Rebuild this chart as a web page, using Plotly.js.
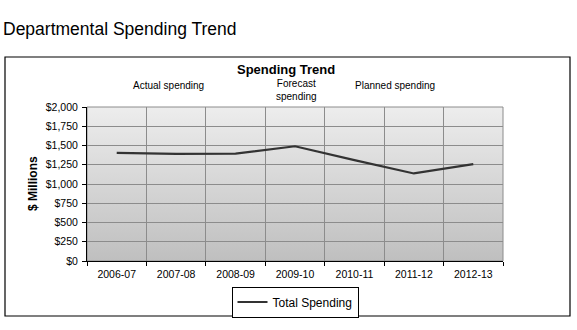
<!DOCTYPE html>
<html>
<head>
<meta charset="utf-8">
<script src="https://cdn.plot.ly/plotly-3.0.1.min.js"></script>
<style>html,body{margin:0;padding:0;background:#fff;}#chart{width:577px;height:330px;}</style>
</head>
<body>
<div id="chart"></div>
<script>
const years = ["2006-07","2007-08","2008-09","2009-10","2010-11","2011-12","2012-13"];
const totalSpending = [1405, 1390, 1395, 1490, 1310, 1137, 1258];
const yTickVals = [0,250,500,750,1000,1250,1500,1750,2000];
const yTickText = ["$0","$250","$500","$750","$1,000","$1,250","$1,500","$1,750","$2,000"];
const seriesName = "Total Spending";
const chartTitle = "Departmental Spending Trend";
const innerTitle = "Spending Trend";
const periodLabels = ["Actual spending", "Forecast<br>spending", "Planned spending"];
const yTitle = "$ Millions";

const L = 87, R = 503, T = 107, B = 261, W = 577, H = 330;
const pw = R - L, ph = B - T;
const px = v => (v - L) / pw;
const py = v => (B - v) / ph;

const grad = 'data:image/svg+xml;utf8,' + encodeURIComponent(
  '<svg xmlns="http://www.w3.org/2000/svg" width="100" height="100" preserveAspectRatio="none">' +
  '<defs><linearGradient id="g" x1="0" y1="0" x2="0" y2="1">' +
  '<stop offset="0" stop-color="#ededed"/><stop offset="1" stop-color="#bfbfbf"/></linearGradient></defs>' +
  '<rect width="100" height="100" fill="url(#g)"/></svg>');

const font = "Liberation Sans, Arial, sans-serif";

const data = [{
  x: years, y: totalSpending, type: "scatter", mode: "lines", name: seriesName,
  line: {color: "#333333", width: 2.2}, showlegend: true
}];

const layout = {
  width: W, height: H,
  margin: {l: L, r: W - R, t: T, b: H - B, pad: 0, autoexpand: false},
  paper_bgcolor: "#ffffff", plot_bgcolor: "rgba(0,0,0,0)",
  font: {family: font, color: "#000", size: 10},
  title: {text: chartTitle, font: {family: font, size: 17.5, color: "#000"},
          x: 3 / W, xanchor: "left", xref: "container", y: 1 - 29 / H, yanchor: "middle", yref: "container"},
  xaxis: {type: "category", tickson: "boundaries", ticks: "outside", ticklen: 4, tickcolor: "#000",
          showgrid: true, gridcolor: "#8c8c8c", gridwidth: 1, showline: true, linecolor: "#000", linewidth: 1,
          tickfont: {size: 10.5, family: font}, range: [-0.5, 6.5], fixedrange: true, zeroline: false,
          automargin: false, ticklabelstandoff: 3},
  yaxis: {range: [0, 2000], tickvals: yTickVals, ticktext: yTickText, ticks: "outside",
          ticklen: 4, tickcolor: "#000", showgrid: true, gridcolor: "#8c8c8c", gridwidth: 1,
          showline: true, linecolor: "#000", linewidth: 1, zeroline: false,
          tickfont: {size: 10.5, family: font}, fixedrange: true, automargin: false, ticklabelstandoff: 2},
  showlegend: true,
  legend: {x: 0.5, xanchor: "center", y: py(302), yanchor: "middle", bgcolor: "#fff",
           bordercolor: "#000", borderwidth: 1, font: {size: 12, family: font},
           itemwidth: 30, tracegroupgap: 0},
  images: [{source: grad, xref: "paper", yref: "paper", x: 0, y: 1, sizex: 1, sizey: 1,
            sizing: "stretch", layer: "below", xanchor: "left", yanchor: "top"}],
  shapes: [
    {type: "rect", xref: "paper", yref: "paper", x0: px(5), x1: px(570), y0: py(316), y1: py(57),
     line: {color: "#000", width: 1.2}, fillcolor: "rgba(0,0,0,0)", layer: "below"},
    {type: "rect", xref: "paper", yref: "paper", x0: 0, x1: 1, y0: 0, y1: 1,
     line: {color: "#8c8c8c", width: 1}, fillcolor: "rgba(0,0,0,0)", layer: "below"}
  ],
  annotations: [
    {text: "<b>" + innerTitle + "</b>", xref: "paper", yref: "paper", x: px(286), y: py(69),
     showarrow: false, font: {size: 13, family: font}, xanchor: "center", yanchor: "middle"},
    {text: periodLabels[0], xref: "paper", yref: "paper", x: px(168), y: py(86),
     showarrow: false, font: {size: 10, family: font}, xanchor: "center", yanchor: "middle"},
    {text: periodLabels[1], xref: "paper", yref: "paper", x: px(296), y: py(90.5),
     showarrow: false, font: {size: 10, family: font}, xanchor: "center", yanchor: "middle"},
    {text: periodLabels[2], xref: "paper", yref: "paper", x: px(395), y: py(86),
     showarrow: false, font: {size: 10, family: font}, xanchor: "center", yanchor: "middle"},
    {text: "<b>" + yTitle + "</b>", xref: "paper", yref: "paper", x: px(33), y: py(183),
     showarrow: false, textangle: -90, font: {size: 12, family: font}, xanchor: "center", yanchor: "middle"}
  ]
};

Plotly.newPlot("chart", data, layout, {displayModeBar: false, staticPlot: true});
</script>
</body>
</html>
